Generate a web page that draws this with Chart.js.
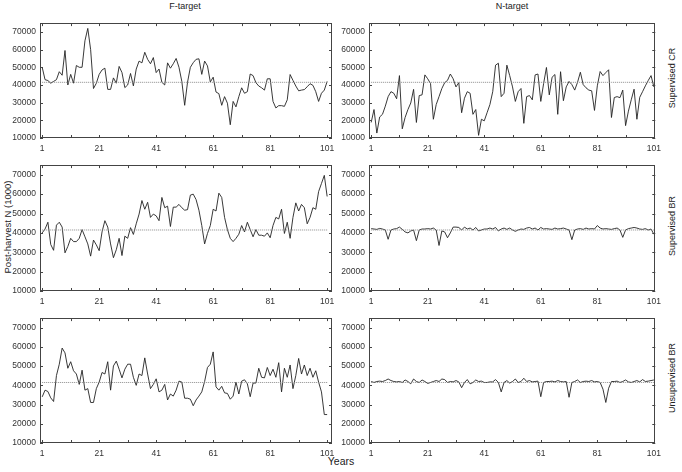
<!DOCTYPE html>
<html>
<head>
<meta charset="utf-8">
<script src="https://cdn.jsdelivr.net/npm/chart.js@4.4.1/dist/chart.umd.min.js"></script>
<style>
  body { margin: 0; background: #fff; width: 682px; height: 472px; position: relative; overflow: hidden;
         font-family: "Liberation Sans", Arial, sans-serif; }
  canvas { position: absolute; }
  .lbl { position: absolute; font-size: 9px; color: #222; white-space: nowrap; transform: translate(-50%, -50%); }
  .rot { transform: translate(-50%, -50%) rotate(-90deg); }
</style>
</head>
<body>
<div class="lbl" style="left:185px; top:6px;">F-target</div>
<div class="lbl" style="left:512px; top:6px;">N-target</div>
<div class="lbl rot" style="left:672px; top:78px;">Supervised CR</div>
<div class="lbl rot" style="left:672px; top:226px;">Supervised BR</div>
<div class="lbl rot" style="left:672px; top:378px;">Unsupervised BR</div>
<div class="lbl rot" style="left:7px; top:227px; font-size:9.5px;">Post-harvest N (1000)</div>
<div class="lbl" style="left:341px; top:461px; font-size:10.5px;">Years</div>

<script>
// 年份 1..101
const years = Array.from({ length: 101 }, (_, i) => i + 1);
const xLabelTicks = [1, 21, 41, 61, 81, 101];
const xMinorTicks = [1, 11, 21, 31, 41, 51, 61, 71, 81, 91, 101];
const yTicks = [10000, 20000, 30000, 40000, 50000, 60000, 70000];
const refLevel = 41500; // 虚线参考水平

// F-target, Supervised CR
const fTargetCR = [
  50000, 43000, 42500, 41000, 42000, 43000, 47500, 45500, 59500, 40000,
  46000, 41000, 51000, 50000, 50000, 65000, 72000, 60000, 38000, 41000,
  46000, 48500, 49500, 37500, 37500, 44000, 41000, 50500, 47000, 38500,
  40000, 46500, 39500, 49000, 53500, 52500, 58500, 54500, 52000, 55500,
  47000, 49000, 41500, 40000, 52500, 49500, 52000, 55000, 50000, 42000,
  28500, 41500, 50000, 52600, 54500, 54800, 46000, 53500, 50800, 41700,
  44400, 36000, 35100, 28500, 33400, 29700, 17500, 30700, 27600, 33400,
  38400, 35300, 36200, 46200, 45300, 41300, 39400, 38400, 37100, 43500,
  43500, 30700, 27000, 28300, 28300, 27900, 31600, 45900, 42600, 39400,
  36700, 37100, 37400, 39000, 40700, 39800, 36200, 30700, 35300, 37100, 42000
];
// N-target, Supervised CR
const nTargetCR = [
  18800, 26100, 12800, 21900, 23400, 28000, 33400, 36200, 35300, 32200,
  45300, 15200, 21600, 26100, 29800, 37500, 18800, 34000, 34400, 45700,
  43500, 40800, 20600, 28900, 33400, 38000, 41300, 42600, 46200, 43500,
  38900, 41300, 24300, 32500, 36200, 35300, 23400, 26100, 11500, 20600,
  19700, 24300, 28900, 36200, 51200, 52300, 33400, 35300, 51200, 45300,
  38900, 30700, 36200, 38000, 18300, 33400, 34000, 31600, 45700, 46200,
  30700, 40800, 49900, 34400, 44400, 45900, 23400, 47500, 31100, 38900,
  42000, 40200, 37100, 41500, 47200, 40200, 38400, 37100, 36700, 25600,
  39500, 47600, 45300, 47000, 48600, 21600, 32900, 33400, 32800, 37100,
  17000, 25200, 31600, 37600, 20600, 33000, 36200, 39500, 42500, 45300, 38900
];
// F-target, Supervised BR
const fTargetBR = [
  40000, 42000, 45500, 34000, 31000, 44000, 45500, 43000, 29700, 33000,
  37200, 35500, 35500, 37200, 41700, 38000, 34300, 28000, 36300, 33800,
  30800, 40500, 46300, 43000, 34300, 27200, 31300, 37200, 28300, 38300,
  37200, 42700, 39200, 44700, 49700, 56700, 52200, 55800, 48000, 49700,
  48800, 46300, 58300, 53000, 53800, 43300, 53300, 53300, 54700, 53000,
  51700, 52000, 59500, 60000, 57200, 51700, 43800, 34300, 39700, 43800,
  52200, 51300, 60500, 58300, 48000, 41700, 37200, 35500, 37200, 39300,
  43800, 40500, 45500, 41700, 38000, 41700, 38800, 38800, 38300, 40000,
  37500, 43800, 48000, 47200, 52200, 39700, 45500, 37200, 48000, 55500,
  51300, 54700, 53000, 44700, 48000, 53000, 52200, 61300, 65500, 69700, 58800
];
// N-target, Supervised BR
const nTargetBR = [
  42200, 42000, 41800, 42300, 42000, 41500, 36700, 41500, 42000, 42200,
  43000, 41800, 40500, 40000, 41000, 41500, 36000, 41500, 42000, 42000,
  42200, 42000, 42500, 41500, 33500, 41000, 40500, 37500, 40000, 43000,
  43000, 42800, 41500, 43000, 42000, 42500, 41500, 42800, 41000, 41500,
  42000, 42000, 42500, 42000, 42800, 41000, 42000, 42500, 41800, 42500,
  41500, 40800, 41500, 42000, 41800, 42500, 42800, 42000, 42500, 41500,
  42800, 42000, 42200, 42000, 41800, 42500, 42000, 42200, 42500, 42000,
  41500, 36500, 41500, 42000, 42200, 41800, 42500, 42000, 42200, 42000,
  43800, 42500, 42000, 42200, 42000, 41800, 42200, 42500, 41500, 37700,
  41500, 42200, 42500, 42800, 42500, 42000, 41800, 42200, 41500, 42000, 39300
];
// F-target, Unsupervised BR
const fTargetUBR = [
  34000, 37500, 36800, 33500, 31600, 45100, 51000, 59400, 56900, 48900,
  52300, 47600, 45900, 40500, 47900, 37500, 38300, 31100, 31100, 38300,
  41700, 46700, 45900, 52300, 37500, 50100, 52600, 48400, 43900, 48400,
  51000, 51000, 44200, 40000, 45900, 45100, 54300, 45900, 38300, 40500,
  43400, 36600, 37500, 40500, 32400, 35500, 34400, 37500, 42200, 41700,
  33300, 33300, 32800, 29400, 32400, 34400, 36600, 42000, 49300, 51000,
  57400, 39200, 37500, 39500, 36100, 35800, 32800, 34400, 41700, 35500,
  42200, 42900, 40800, 34100, 41200, 41200, 48900, 44200, 43900, 49300,
  45100, 48400, 44200, 51800, 36600, 48900, 44200, 50600, 38300, 45100,
  54000, 45900, 50600, 45100, 48900, 44200, 47600, 41700, 36600, 24800, 24800
];
// N-target, Unsupervised BR
const nTargetUBR = [
  42000, 41500, 42000, 42200, 42000, 42500, 43300, 42500, 42000, 41800,
  42000, 41500, 42800, 42000, 40800, 43300, 42000, 41500, 42800, 42000,
  41000, 41500, 42000, 42500, 42000, 43300, 43000, 41500, 42000, 41800,
  42500, 41800, 38800, 41500, 43000, 40800, 41500, 42800, 42000, 42200,
  41500, 41500, 41800, 41800, 43000, 41500, 36600, 41500, 42500, 41200,
  42000, 43300, 41500, 42000, 43700, 42000, 42500, 41800, 42000, 42200,
  34100, 41500, 42000, 42000, 42200, 41800, 42500, 42000, 41800, 42000,
  33800, 41500, 42000, 42800, 41500, 42000, 42200, 42000, 42500, 41800,
  42000, 41500, 38000, 31100, 38500, 42000, 42000, 42200, 41500, 42000,
  42800, 41800, 41500, 42000, 42500, 41800, 43000, 42000, 42200, 42500, 42800
];

// 面板位置 (绘图区)
const colLeft = { x0: 40, x1: 332, xmin: 0.23, xmax: 102.7 };
const colRight = { x0: 369, x1: 657, xmin: 0.23, xmax: 101.5 };
const rows = [
  { y0: 19, y1: 138 },
  { y0: 161, y1: 291 },
  { y0: 314, y1: 443 }
];
const Y_AXIS_W = 40, X_AXIS_H = 20, PAD_T = 5, PAD_R = 10;

// 绘制内向刻度和边框
const innerTicks = {
  id: 'innerTicks',
  afterDatasetsDraw(chart) {
    const { ctx, chartArea: a, scales: { x, y } } = chart;
    ctx.save();
    ctx.strokeStyle = '#444';
    ctx.lineWidth = 1;
    ctx.beginPath();
    xMinorTicks.forEach(v => {
      const px = Math.round(x.getPixelForValue(v)) + 0.5;
      ctx.moveTo(px, a.top); ctx.lineTo(px, a.top + 3);
      ctx.moveTo(px, a.bottom); ctx.lineTo(px, a.bottom - 3);
    });
    yTicks.forEach(v => {
      const py = Math.round(y.getPixelForValue(v)) + 0.5;
      ctx.moveTo(a.left, py); ctx.lineTo(a.left + 3, py);
      ctx.moveTo(a.right, py); ctx.lineTo(a.right - 3, py);
    });
    ctx.stroke();
    ctx.strokeRect(Math.round(a.left) + 0.5, Math.round(a.top) + 0.5,
                   Math.round(a.right - a.left) - 1, Math.round(a.bottom - a.top) - 1);
    ctx.restore();
  }
};

function makePanel(col, row, series) {
  const canvas = document.createElement('canvas');
  const w = (col.x1 - col.x0) + Y_AXIS_W + PAD_R;
  const h = (row.y1 - row.y0) + PAD_T + X_AXIS_H;
  canvas.width = w; canvas.height = h;
  canvas.style.left = (col.x0 - Y_AXIS_W) + 'px';
  canvas.style.top = (row.y0 - PAD_T) + 'px';
  canvas.style.width = w + 'px'; canvas.style.height = h + 'px';
  document.body.appendChild(canvas);

  const tickFont = { family: 'Liberation Sans', size: 8.5 };
  new Chart(canvas, {
    type: 'line',
    data: {
      datasets: [
        {
          data: years.map(yr => ({ x: yr, y: refLevel })),
          borderColor: '#888', borderWidth: 1, borderDash: [1, 1],
          pointRadius: 0, fill: false
        },
        {
          data: years.map((yr, i) => ({ x: yr, y: series[i] })),
          borderColor: '#222', borderWidth: 0.9,
          pointRadius: 0, tension: 0, fill: false
        }
      ]
    },
    options: {
      responsive: false,
      animation: false,
      events: [],
      layout: { padding: { top: PAD_T, right: PAD_R, left: 0, bottom: 0 } },
      plugins: { legend: { display: false }, tooltip: { enabled: false } },
      scales: {
        x: {
          type: 'linear', min: col.xmin, max: col.xmax,
          grid: { display: false, drawTicks: false }, border: { display: false },
          afterBuildTicks: s => { s.ticks = xLabelTicks.map(v => ({ value: v })); },
          afterFit: s => { s.height = X_AXIS_H; },
          ticks: { font: tickFont, color: '#333', padding: 6, maxRotation: 0, autoSkip: false }
        },
        y: {
          type: 'linear', min: 10000, max: 75000,
          grid: { display: false, drawTicks: false }, border: { display: false },
          afterBuildTicks: s => { s.ticks = yTicks.map(v => ({ value: v })); },
          afterFit: s => { s.width = Y_AXIS_W; },
          ticks: { font: tickFont, color: '#333', padding: 4, callback: v => String(v) }
        }
      }
    },
    plugins: [innerTicks]
  });
}

makePanel(colLeft, rows[0], fTargetCR);
makePanel(colRight, rows[0], nTargetCR);
makePanel(colLeft, rows[1], fTargetBR);
makePanel(colRight, rows[1], nTargetBR);
makePanel(colLeft, rows[2], fTargetUBR);
makePanel(colRight, rows[2], nTargetUBR);
</script>
</body>
</html>
